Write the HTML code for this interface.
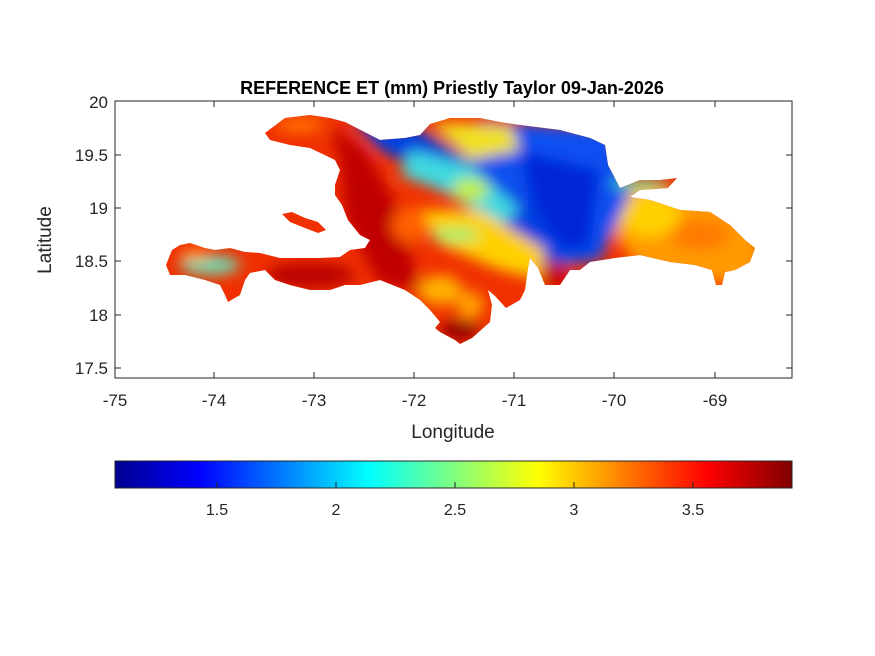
<!DOCTYPE html>
<html><head><meta charset="utf-8"><style>
body{margin:0;background:#fff;}
svg{display:block;font-family:"Liberation Sans",sans-serif;}
</style></head><body>
<svg width="875" height="656" viewBox="0 0 875 656" xmlns="http://www.w3.org/2000/svg">
<defs>
<clipPath id="isl">
<path d="M265,133 L285,118 L310,115 L330,118 L345,122 L380,140 L405,138 L420,135 L430,124 L450,118 L480,118 L500,122 L520,125 L560,130 L590,138 L605,145 L608,165 L620,188 L640,180 L660,180 L677,178 L668,188 L640,190 L630,197 L650,200 L680,210 L710,212 L730,225 L745,240 L755,248 L750,262 L735,270 L725,272 L722,285 L716,285 L712,270 L695,265 L670,262 L640,255 L615,258 L590,262 L580,270 L570,270 L560,285 L545,285 L538,268 L530,258 L528,268 L525,290 L520,300 L506,308 L495,296 L488,290 L492,305 L490,322 L472,338 L460,344 L455,340 L440,332 L435,328 L440,322 L430,310 L420,300 L405,290 L380,280 L360,285 L345,285 L330,290 L310,290 L290,285 L275,280 L265,270 L250,273 L245,280 L240,295 L228,302 L225,295 L220,285 L205,280 L185,275 L170,275 L166,265 L172,250 L180,245 L190,243 L205,248 L215,250 L230,248 L245,252 L260,253 L280,258 L300,258 L320,258 L340,257 L350,250 L365,248 L370,240 L360,235 L348,220 L342,205 L335,195 L335,185 L340,170 L335,160 L310,148 L290,145 L270,140 Z"/>
<path d="M282,214 L292,212 L305,218 L318,222 L326,230 L318,233 L305,228 L290,222 Z"/>
</clipPath>
<linearGradient id="cb" x1="0" x2="1">
<stop offset="0" stop-color="#00008f"/>
<stop offset="0.125" stop-color="#0000ff"/>
<stop offset="0.375" stop-color="#00ffff"/>
<stop offset="0.625" stop-color="#ffff00"/>
<stop offset="0.875" stop-color="#ff0000"/>
<stop offset="1" stop-color="#800000"/>
</linearGradient>
<filter id="bl" x="-20%" y="-20%" width="140%" height="140%"><feGaussianBlur stdDeviation="7"/></filter>
</defs>
<rect x="115" y="101" width="677" height="277" fill="#fff" stroke="#262626" stroke-width="1"/>
<g clip-path="url(#isl)">
<rect x="160" y="110" width="610" height="240" fill="#f03000"/>
<g filter="url(#bl)">
<polygon points="620,185 760,200 760,290 640,270 610,230" fill="#ff9a00"/>
<ellipse cx="650" cy="215" rx="30" ry="22" fill="#ffd000"/>
<ellipse cx="700" cy="235" rx="30" ry="15" fill="#ff7a00"/>
<polygon points="480,120 610,130 630,195 600,260 560,265 520,220 470,170" fill="#0a50f0"/>
<polygon points="520,150 600,170 590,250 560,250 530,200" fill="#0028d8"/>
<polygon points="350,118 420,130 470,160 540,215 560,260 540,265 500,220 430,175 380,150" fill="#0040e0"/>
<ellipse cx="640" cy="184" rx="30" ry="5" fill="#40e0a0"/>
<polygon points="430,122 510,125 520,150 470,160" fill="#f0e020"/>
<polygon points="410,150 470,165 520,210 500,225 440,190 400,175" fill="#40d8e0"/>
<ellipse cx="470" cy="190" rx="18" ry="12" fill="#c0f040"/>
<polygon points="420,210 480,210 545,250 540,280 500,270 440,245" fill="#ffd000"/>
<ellipse cx="455" cy="235" rx="25" ry="7" fill="#a0f070"/>
<polygon points="330,125 365,150 400,210 420,290 380,285 345,220 340,160" fill="#c00000"/>
<ellipse cx="410" cy="225" rx="18" ry="18" fill="#ff6000"/>
<ellipse cx="440" cy="290" rx="22" ry="15" fill="#ffb000"/>
<ellipse cx="470" cy="305" rx="14" ry="14" fill="#ffa000"/>
<ellipse cx="310" cy="275" rx="45" ry="12" fill="#b80000"/>
<ellipse cx="210" cy="265" rx="30" ry="10" fill="#70d8b0"/>
<ellipse cx="195" cy="255" rx="15" ry="6" fill="#ff9000"/>
<ellipse cx="460" cy="330" rx="20" ry="10" fill="#900000"/>
<ellipse cx="300" cy="125" rx="25" ry="8" fill="#ff7000"/>
<ellipse cx="555" cy="275" rx="15" ry="10" fill="#c00000"/>
</g>
</g>
<g stroke="#262626" stroke-width="1">
<line x1="214" y1="378" x2="214" y2="372"/><line x1="314" y1="378" x2="314" y2="372"/><line x1="414" y1="378" x2="414" y2="372"/><line x1="514" y1="378" x2="514" y2="372"/><line x1="614" y1="378" x2="614" y2="372"/><line x1="715" y1="378" x2="715" y2="372"/>
<line x1="214" y1="101" x2="214" y2="107"/><line x1="314" y1="101" x2="314" y2="107"/><line x1="414" y1="101" x2="414" y2="107"/><line x1="514" y1="101" x2="514" y2="107"/><line x1="614" y1="101" x2="614" y2="107"/><line x1="715" y1="101" x2="715" y2="107"/>
<line x1="115" y1="155" x2="121" y2="155"/><line x1="115" y1="208" x2="121" y2="208"/><line x1="115" y1="261" x2="121" y2="261"/><line x1="115" y1="315" x2="121" y2="315"/><line x1="115" y1="368" x2="121" y2="368"/>
<line x1="792" y1="155" x2="786" y2="155"/><line x1="792" y1="208" x2="786" y2="208"/><line x1="792" y1="261" x2="786" y2="261"/><line x1="792" y1="315" x2="786" y2="315"/><line x1="792" y1="368" x2="786" y2="368"/>
</g>
<text x="452" y="94" font-size="18" font-weight="bold" text-anchor="middle" fill="#000">REFERENCE ET (mm) Priestly Taylor 09-Jan-2026</text>
<g font-size="17" fill="#262626" text-anchor="middle">
<text x="115" y="406">-75</text><text x="214" y="406">-74</text><text x="314" y="406">-73</text><text x="414" y="406">-72</text><text x="514" y="406">-71</text><text x="614" y="406">-70</text><text x="715" y="406">-69</text>
</g>
<g font-size="17" fill="#262626" text-anchor="end">
<text x="108" y="108">20</text><text x="108" y="161">19.5</text><text x="108" y="214">19</text><text x="108" y="267">18.5</text><text x="108" y="321">18</text><text x="108" y="374">17.5</text>
</g>
<text x="453" y="438" font-size="19" text-anchor="middle" fill="#262626">Longitude</text>
<text transform="translate(51,240) rotate(-90)" font-size="19" text-anchor="middle" fill="#262626">Latitude</text>
<rect x="115" y="461" width="677" height="27" fill="url(#cb)" stroke="#262626" stroke-width="1"/>
<g stroke="#262626"><line x1="217" y1="488" x2="217" y2="482"/><line x1="336" y1="488" x2="336" y2="482"/><line x1="455" y1="488" x2="455" y2="482"/><line x1="574" y1="488" x2="574" y2="482"/><line x1="693" y1="488" x2="693" y2="482"/></g>
<g font-size="16" fill="#262626" text-anchor="middle">
<text x="217" y="515">1.5</text><text x="336" y="515">2</text><text x="455" y="515">2.5</text><text x="574" y="515">3</text><text x="693" y="515">3.5</text>
</g>
</svg>
</body></html>
